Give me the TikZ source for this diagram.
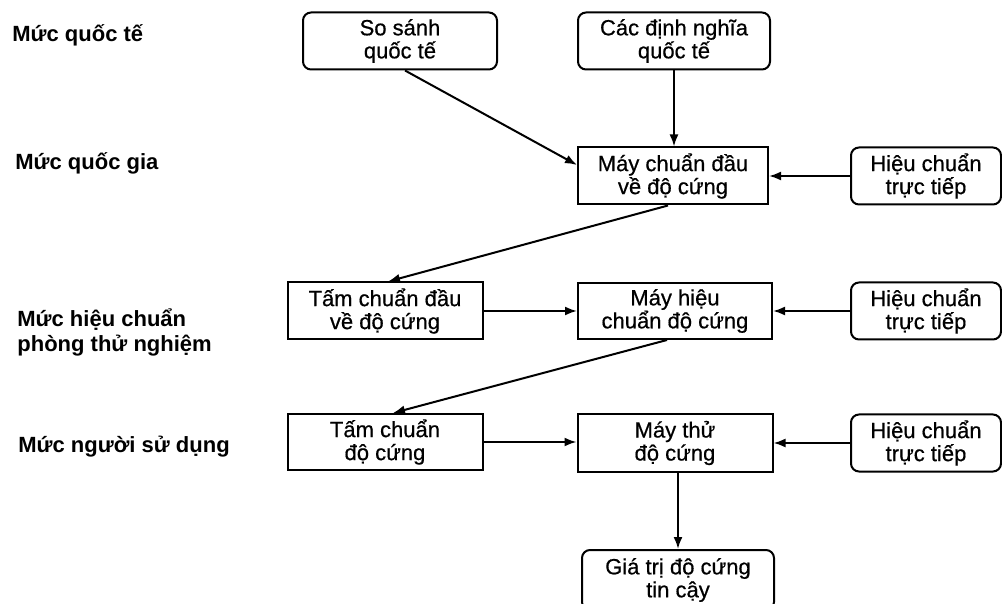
\documentclass[tikz,border=0pt]{standalone}
\usepackage{fontspec}
\setmainfont{Liberation Sans}
\usepackage{tikz}
\usetikzlibrary{positioning, arrows.meta}

\tikzset{
  box/.style={draw, line width=1pt, minimum width=96pt, minimum height=28.5pt, align=center, inner sep=0pt, font=\fontsize{11}{11.5}\selectfont\addfontfeatures{FakeBold=0.6}},
  rbox/.style={box, rounded corners=4pt},
  hcbox/.style={rbox, minimum width=75pt},
  level/.style={anchor=west, align=left, inner sep=0pt, font=\fontsize{11}{12.5}\selectfont\bfseries},
  arr/.style={line width=1pt, -{Latex[length=6pt, width=4.5pt]}}
}

\begin{document}
\begin{tikzpicture}[x=0.5pt, y=-0.5pt]
\useasboundingbox (0,0) rectangle (1002,604) ;

\node[level] at (12,35) (lvl1) {Mức quốc tế} ;
\node[level] at (15,163) (lvl2) {Mức quốc gia} ;
\node[level] at (17,332) (lvl3) {Mức hiệu chuẩn\\phòng thử nghiệm} ;
\node[level] at (18,447) (lvl4) {Mức người sử dụng} ;

\node[rbox, minimum width=97pt] at (400,41) (sosanh) {So sánh\\quốc tế} ;
\node[rbox] at (674,41) (dinhnghia) {Các định nghĩa\\quốc tế} ;
\node[box, minimum width=95pt] at (673,176) (maychuan) {Máy chuẩn đầu\\về độ cứng} ;
\node[hcbox] at (926,176) (hc1) {Hiệu chuẩn\\trực tiếp} ;

\node[box, minimum width=97.5pt] at (385,311) (tamdau) {Tấm chuẩn đầu\\về độ cứng} ;
\node[box, minimum width=97pt, minimum height=28pt] at (675,311) (mayhc) {Máy hiệu\\chuẩn độ cứng} ;
\node[hcbox] at (926,311) (hc2) {Hiệu chuẩn\\trực tiếp} ;

\node[box, minimum width=97.5pt, minimum height=28pt] at (385,442) (tam) {Tấm chuẩn\\độ cứng} ;
\node[box, minimum width=97.5pt] at (675,443) (maythu) {Máy thử\\độ cứng} ;
\node[hcbox] at (926,443) (hc3) {Hiệu chuẩn\\trực tiếp} ;

\node[rbox, minimum height=30pt] at (678,580) (giatri) {Giá trị độ cứng\\tin cậy} ;

\draw[arr] ([xshift=2.5pt]sosanh.south) -- ([yshift=5.5pt]maychuan.west) ;
\draw[arr] (dinhnghia.south) -- (dinhnghia.south |- maychuan.north) ;
\draw[arr] (hc1.west) -- (maychuan.east) ;
\draw[arr] ([xshift=-2.5pt]maychuan.south) -- ([xshift=1.5pt]tamdau.north) ;
\draw[arr] (tamdau.east) -- (mayhc.west) ;
\draw[arr] (hc2.west) -- (mayhc.east) ;
\draw[arr] ([xshift=-4pt]mayhc.south) -- ([xshift=4pt]tam.north) ;
\draw[arr] (tam.east) -- (tam.east -| maythu.west) ;
\draw[arr] (hc3.west) -- (maythu.east) ;
\draw[arr] (maythu.south -| giatri.north) -- (giatri.north) ;
\end{tikzpicture}
\end{document}
